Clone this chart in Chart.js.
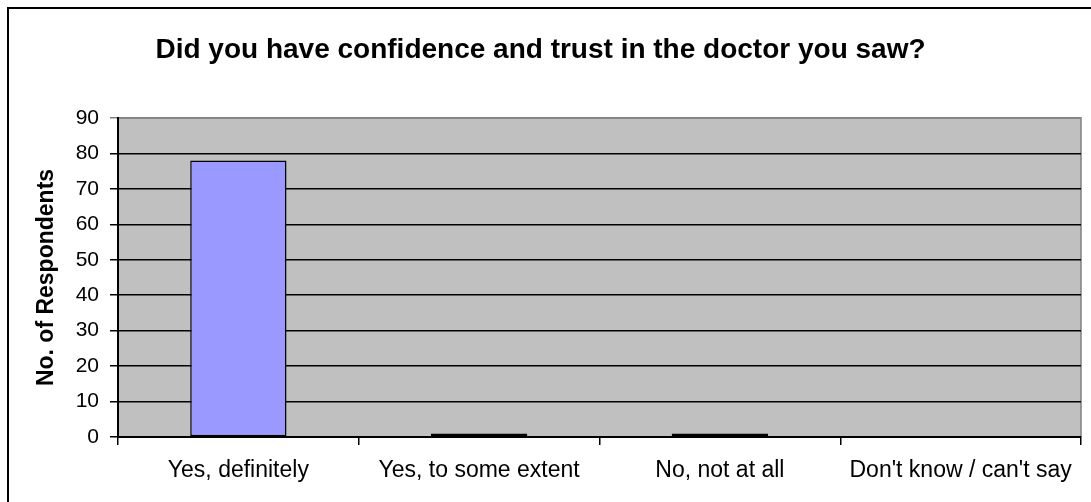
<!DOCTYPE html>
<html>
<head>
<meta charset="utf-8">
<script src="https://cdn.jsdelivr.net/npm/chart.js@4.4.0/dist/chart.umd.min.js"></script>
<style>
  html, body { margin: 0; padding: 0; background: #fff; overflow: hidden; }
  #wrap { position: relative; width: 1091px; height: 502px; }
  #frame { position: absolute; left: 7px; top: 7px; width: 1200px; height: 700px; border: 2px solid #000; box-sizing: border-box; pointer-events: none; }
  canvas { position: absolute; left: 0; top: 0; }
</style>
</head>
<body>
<div id="wrap">
  <canvas id="c" width="1091" height="502"></canvas>
  <div id="frame"></div>
</div>
<script>
const chartTitle = "Did you have confidence and trust in the doctor you saw?";
const yAxisTitle = "No. of Respondents";
const categories = ["Yes, definitely", "Yes, to some extent", "No, not at all", "Don't know / can't say"];
const respondents = [78, 1, 1, 0];
const yMin = 0, yMax = 90, yStep = 10;

const FONT = "'Liberation Sans', Arial, Helvetica, sans-serif";

const plotBg = {
  id: 'plotBg',
  beforeDraw(chart) {
    const a = chart.chartArea, ctx = chart.ctx;
    ctx.save();
    ctx.fillStyle = '#C0C0C0';
    ctx.fillRect(a.left, a.top, a.right - a.left, a.bottom - a.top);
    ctx.strokeStyle = '#808080';
    ctx.lineWidth = 1.5;
    ctx.beginPath();
    ctx.moveTo(a.left, a.top); ctx.lineTo(a.right, a.top); ctx.lineTo(a.right, a.bottom);
    ctx.stroke();
    ctx.restore();
  }
};

new Chart(document.getElementById('c'), {
  type: 'bar',
  data: {
    labels: categories,
    datasets: [{
      data: respondents,
      backgroundColor: '#9999FF',
      borderColor: '#000000',
      borderWidth: 1.5,
      borderSkipped: false,
      categoryPercentage: 1.0,
      barPercentage: 0.4
    }]
  },
  plugins: [plotBg],
  options: {
    responsive: false,
    animation: false,
    devicePixelRatio: 1,
    layout: { padding: { left: 0, right: 10, top: 0, bottom: 0 } },
    plugins: {
      legend: { display: false },
      tooltip: { enabled: false },
      title: {
        display: true,
        text: chartTitle,
        color: '#000',
        font: { family: FONT, size: 28, weight: 'bold' },
        padding: { top: 33.2, bottom: 51.2 }
      }
    },
    scales: {
      x: {
        grid: { display: true, drawOnChartArea: false, drawTicks: true, tickLength: 8, color: '#000', lineWidth: 1.5, offset: true },
        border: { display: true, color: '#000', width: 2 },
        ticks: { color: '#000', font: { family: FONT, size: 23 }, padding: 12, maxRotation: 0, autoSkip: false },
        afterFit(s) { s.height = 65; }
      },
      y: {
        min: yMin, max: yMax,
        grid: {
          drawOnChartArea: true, drawTicks: true, tickLength: 8,
          color: (c) => (c.tick && c.tick.value === yMax) ? '#808080' : '#000',
          lineWidth: 1.5
        },
        border: { display: true, color: '#000', width: 2 },
        ticks: { stepSize: yStep, color: '#000', font: { family: FONT, size: 21 }, padding: 11 },
        title: {
          display: true, text: yAxisTitle, color: '#000',
          font: { family: FONT, size: 23, weight: 'bold' },
          padding: { top: 33, bottom: 0 }
        },
        afterFit(s) { s.width = 118; }
      }
    }
  }
});
</script>
</body>
</html>
